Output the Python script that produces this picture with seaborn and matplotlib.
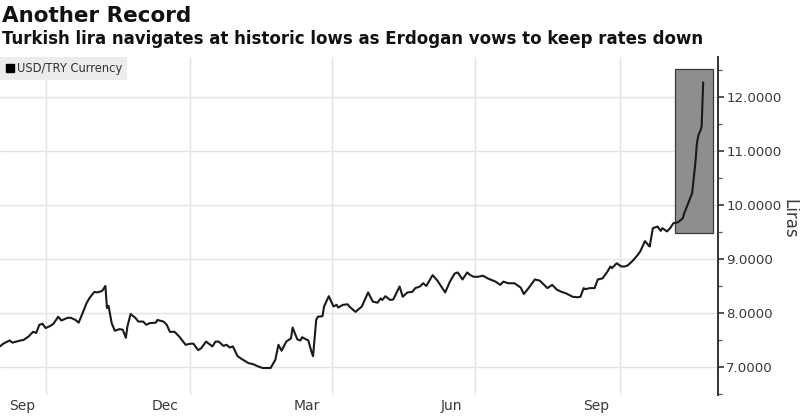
import matplotlib
matplotlib.use("Agg")
import matplotlib.pyplot as plt
import matplotlib.dates as mdates
from matplotlib.lines import Line2D
from matplotlib.patches import Rectangle
from matplotlib.ticker import FixedLocator, FormatStrFormatter, MultipleLocator
import seaborn as sns
import pandas as pd

# ---------------- data ----------------
dates = [
    "2020-09-01", "2020-09-03", "2020-09-07", "2020-09-09", "2020-09-14", "2020-09-16",
    "2020-09-19", "2020-09-22", "2020-09-24", "2020-09-26", "2020-09-28", "2020-09-30",
    "2020-10-03", "2020-10-05", "2020-10-08", "2020-10-10", "2020-10-14", "2020-10-16",
    "2020-10-19", "2020-10-21", "2020-10-23", "2020-10-26", "2020-10-28", "2020-10-31",
    "2020-11-02", "2020-11-05", "2020-11-07", "2020-11-08", "2020-11-09", "2020-11-11",
    "2020-11-13", "2020-11-16", "2020-11-18", "2020-11-20", "2020-11-21", "2020-11-23",
    "2020-11-26", "2020-11-28", "2020-12-01", "2020-12-03", "2020-12-05", "2020-12-09",
    "2020-12-10", "2020-12-14", "2020-12-16", "2020-12-18", "2020-12-21", "2020-12-24",
    "2020-12-28", "2020-12-31", "2021-01-02", "2021-01-05", "2021-01-07", "2021-01-10",
    "2021-01-14", "2021-01-16", "2021-01-18", "2021-01-21", "2021-01-23", "2021-01-25",
    "2021-01-27", "2021-01-30", "2021-02-02", "2021-02-06", "2021-02-09", "2021-02-12",
    "2021-02-15", "2021-02-20", "2021-02-23", "2021-02-25", "2021-02-27", "2021-03-02",
    "2021-03-05", "2021-03-06", "2021-03-09", "2021-03-11", "2021-03-12", "2021-03-16",
    "2021-03-18", "2021-03-19", "2021-03-21", "2021-03-22", "2021-03-25", "2021-03-26",
    "2021-03-29", "2021-04-01", "2021-04-03", "2021-04-04", "2021-04-07", "2021-04-10",
    "2021-04-11", "2021-04-15", "2021-04-19", "2021-04-23", "2021-04-26", "2021-04-29",
    "2021-05-01", "2021-05-02", "2021-05-04", "2021-05-07", "2021-05-09", "2021-05-13",
    "2021-05-15", "2021-05-18", "2021-05-21", "2021-05-23", "2021-05-26", "2021-05-28",
    "2021-05-30", "2021-06-03", "2021-06-06", "2021-06-11", "2021-06-14", "2021-06-17",
    "2021-06-19", "2021-06-22", "2021-06-25", "2021-06-27", "2021-06-29", "2021-07-02",
    "2021-07-05", "2021-07-08", "2021-07-13", "2021-07-16", "2021-07-18", "2021-07-21",
    "2021-07-25", "2021-07-29", "2021-07-31", "2021-08-03", "2021-08-07", "2021-08-10",
    "2021-08-15", "2021-08-18", "2021-08-21", "2021-08-24", "2021-08-27", "2021-08-31",
    "2021-09-03", "2021-09-05", "2021-09-07", "2021-09-08", "2021-09-11", "2021-09-14",
    "2021-09-16", "2021-09-19", "2021-09-22", "2021-09-24", "2021-09-25", "2021-09-28",
    "2021-10-01", "2021-10-03", "2021-10-05", "2021-10-08", "2021-10-11", "2021-10-13",
    "2021-10-16", "2021-10-18", "2021-10-19", "2021-10-21", "2021-10-24", "2021-10-26",
    "2021-10-27", "2021-10-30", "2021-11-01", "2021-11-03", "2021-11-06", "2021-11-09",
    "2021-11-10", "2021-11-12", "2021-11-15", "2021-11-17", "2021-11-18", "2021-11-19",
    "2021-11-20", "2021-11-21", "2021-11-22",
]
usd_try = [
    7.38, 7.43, 7.49, 7.45, 7.49, 7.50,
    7.56, 7.65, 7.63, 7.78, 7.80, 7.72,
    7.76, 7.80, 7.93, 7.86, 7.91, 7.91,
    7.87, 7.82, 7.96, 8.18, 8.28, 8.39,
    8.38, 8.41, 8.50, 8.09, 8.13, 7.81,
    7.67, 7.70, 7.69, 7.54, 7.75, 7.98,
    7.91, 7.84, 7.84, 7.78, 7.81, 7.82,
    7.87, 7.84, 7.78, 7.65, 7.65, 7.56,
    7.41, 7.43, 7.43, 7.31, 7.35, 7.47,
    7.38, 7.47, 7.47, 7.39, 7.41, 7.36,
    7.38, 7.20, 7.14, 7.07, 7.05, 7.01,
    6.98, 6.98, 7.13, 7.41, 7.30, 7.47,
    7.53, 7.73, 7.51, 7.49, 7.55, 7.49,
    7.28, 7.20, 7.87, 7.93, 7.94, 8.12,
    8.31, 8.12, 8.15, 8.10, 8.15, 8.16,
    8.12, 8.02, 8.12, 8.38, 8.21, 8.19,
    8.27, 8.24, 8.31, 8.24, 8.25, 8.49,
    8.30, 8.38, 8.39, 8.46, 8.49, 8.55,
    8.50, 8.70, 8.60, 8.38, 8.58, 8.73,
    8.75, 8.62, 8.75, 8.70, 8.67, 8.67,
    8.69, 8.64, 8.58, 8.52, 8.58, 8.55,
    8.55, 8.47, 8.35, 8.46, 8.62, 8.60,
    8.46, 8.52, 8.43, 8.39, 8.36, 8.30,
    8.29, 8.30, 8.46, 8.44, 8.46, 8.46,
    8.62, 8.64, 8.76, 8.86, 8.83, 8.92,
    8.86, 8.86, 8.88, 8.96, 9.06, 9.14,
    9.33, 9.26, 9.23, 9.57, 9.60, 9.52,
    9.57, 9.51, 9.57, 9.66, 9.68, 9.75,
    9.85, 10.00, 10.22, 10.77, 11.14, 11.30,
    11.36, 11.45, 12.27,
]

month_labels = ["Sep", "Dec", "Mar", "Jun", "Sep"]
month_label_dates = ["2020-09-15", "2020-12-15", "2021-03-15", "2021-06-15", "2021-09-15"]
grid_dates = ["2020-09-30", "2020-12-31", "2021-03-31", "2021-06-30", "2021-09-30"]
year_labels = ["2020", "2021"]
year_label_dates = ["2020-11-01", "2021-06-16"]
y_ticks = [7, 8, 9, 10, 11, 12]
highlight_dates = ["2021-11-04", "2021-11-28"]
highlight_range = [9.48, 12.52]

title = "Another Record"
subtitle = "Turkish lira navigates at historic lows as Erdogan vows to keep rates down"
series_name = "USD/TRY Currency"
y_label = "Liras"

# ---------------- figure ----------------
sns.set_theme(style="white")
plt.rcParams["font.family"] = ["DejaVu Sans"]

df = pd.DataFrame({"date": pd.to_datetime(dates), "rate": usd_try})

fig = plt.figure(figsize=(8.0, 4.18), dpi=100)
ax = fig.add_axes([0.0, 0.055, 0.8975, 0.8086])

grid_color = "#e4e4e4"
for g in pd.to_datetime(grid_dates):
    ax.axvline(g, color=grid_color, lw=1.0, zorder=0)
for v in y_ticks:
    ax.axhline(v, color=grid_color, lw=1.0, zorder=0)

h0, h1 = pd.to_datetime(highlight_dates)
ax.add_patch(Rectangle((mdates.date2num(h0), highlight_range[0]),
                       mdates.date2num(h1) - mdates.date2num(h0),
                       highlight_range[1] - highlight_range[0],
                       facecolor="#8e8e8e", edgecolor="#3a3a3a", lw=0.9, zorder=1))

sns.lineplot(data=df, x="date", y="rate", ax=ax, color="#1a1a1a", lw=1.5,
             estimator=None, sort=False, legend=False, zorder=3)

ax.set_xlim(pd.Timestamp("2020-09-01"), pd.Timestamp("2021-12-01 10:00"))
ax.set_ylim(6.48, 12.74)

# y axis on the right
ax.yaxis.tick_right()
ax.yaxis.set_label_position("right")
ax.yaxis.set_major_locator(FixedLocator(y_ticks))
ax.yaxis.set_minor_locator(MultipleLocator(0.5))
ax.yaxis.set_major_formatter(FormatStrFormatter("%.4f"))
ax.tick_params(axis="y", which="major", right=True, left=False, length=4, width=1.2,
               color="#333333", labelsize=9.6, labelcolor="#3a3a3a", pad=2)
ax.tick_params(axis="y", which="minor", right=True, left=False, length=3, width=0.9,
               color="#555555")
ax.set_ylabel(y_label, rotation=270, fontsize=12, color="#3a3a3a",
              ha="center", va="center")
ax.yaxis.set_label_coords(789 / 718, 0.52)

# x axis: labels mid-month, no tick marks
ax.set_xticks(pd.to_datetime(month_label_dates))
ax.set_xticklabels(month_labels)
ax.tick_params(axis="x", which="both", bottom=False, top=False, length=0,
               labelsize=10, labelcolor="#3a3a3a", pad=3)
ax.set_xlabel("")
for lab, d in zip(year_labels, pd.to_datetime(year_label_dates)):
    ax.text(d, -0.09, lab, transform=ax.get_xaxis_transform(), ha="center", va="top",
            fontsize=10, color="#3a3a3a", clip_on=False)

for s in ["left", "top", "bottom"]:
    ax.spines[s].set_visible(False)
ax.spines["right"].set_color("#333333")
ax.spines["right"].set_linewidth(1.4)
ax.set_facecolor("white")

# legend box
handle = Line2D([], [], marker="s", color="black", ls="none", markersize=6)
leg = ax.legend([handle], [series_name], loc="upper left", bbox_to_anchor=(0.0, 1.0),
                frameon=True, fancybox=False, borderaxespad=0.0, handletextpad=0.2,
                handlelength=0.8, borderpad=0.45, fontsize=8.3)
leg.get_frame().set_facecolor("#ececec")
leg.get_frame().set_edgecolor("none")
leg.get_frame().set_alpha(1)
for t in leg.get_texts():
    t.set_color("#333333")

# titles
fig.text(0.002, 0.948, title, fontsize=15.5, fontweight="bold", color="#111111",
         ha="left", va="baseline")
fig.text(0.002, 0.895, subtitle, fontsize=11.95, fontweight="bold", color="#111111",
         ha="left", va="baseline")

fig.savefig("out.png", dpi=100, facecolor="white")
